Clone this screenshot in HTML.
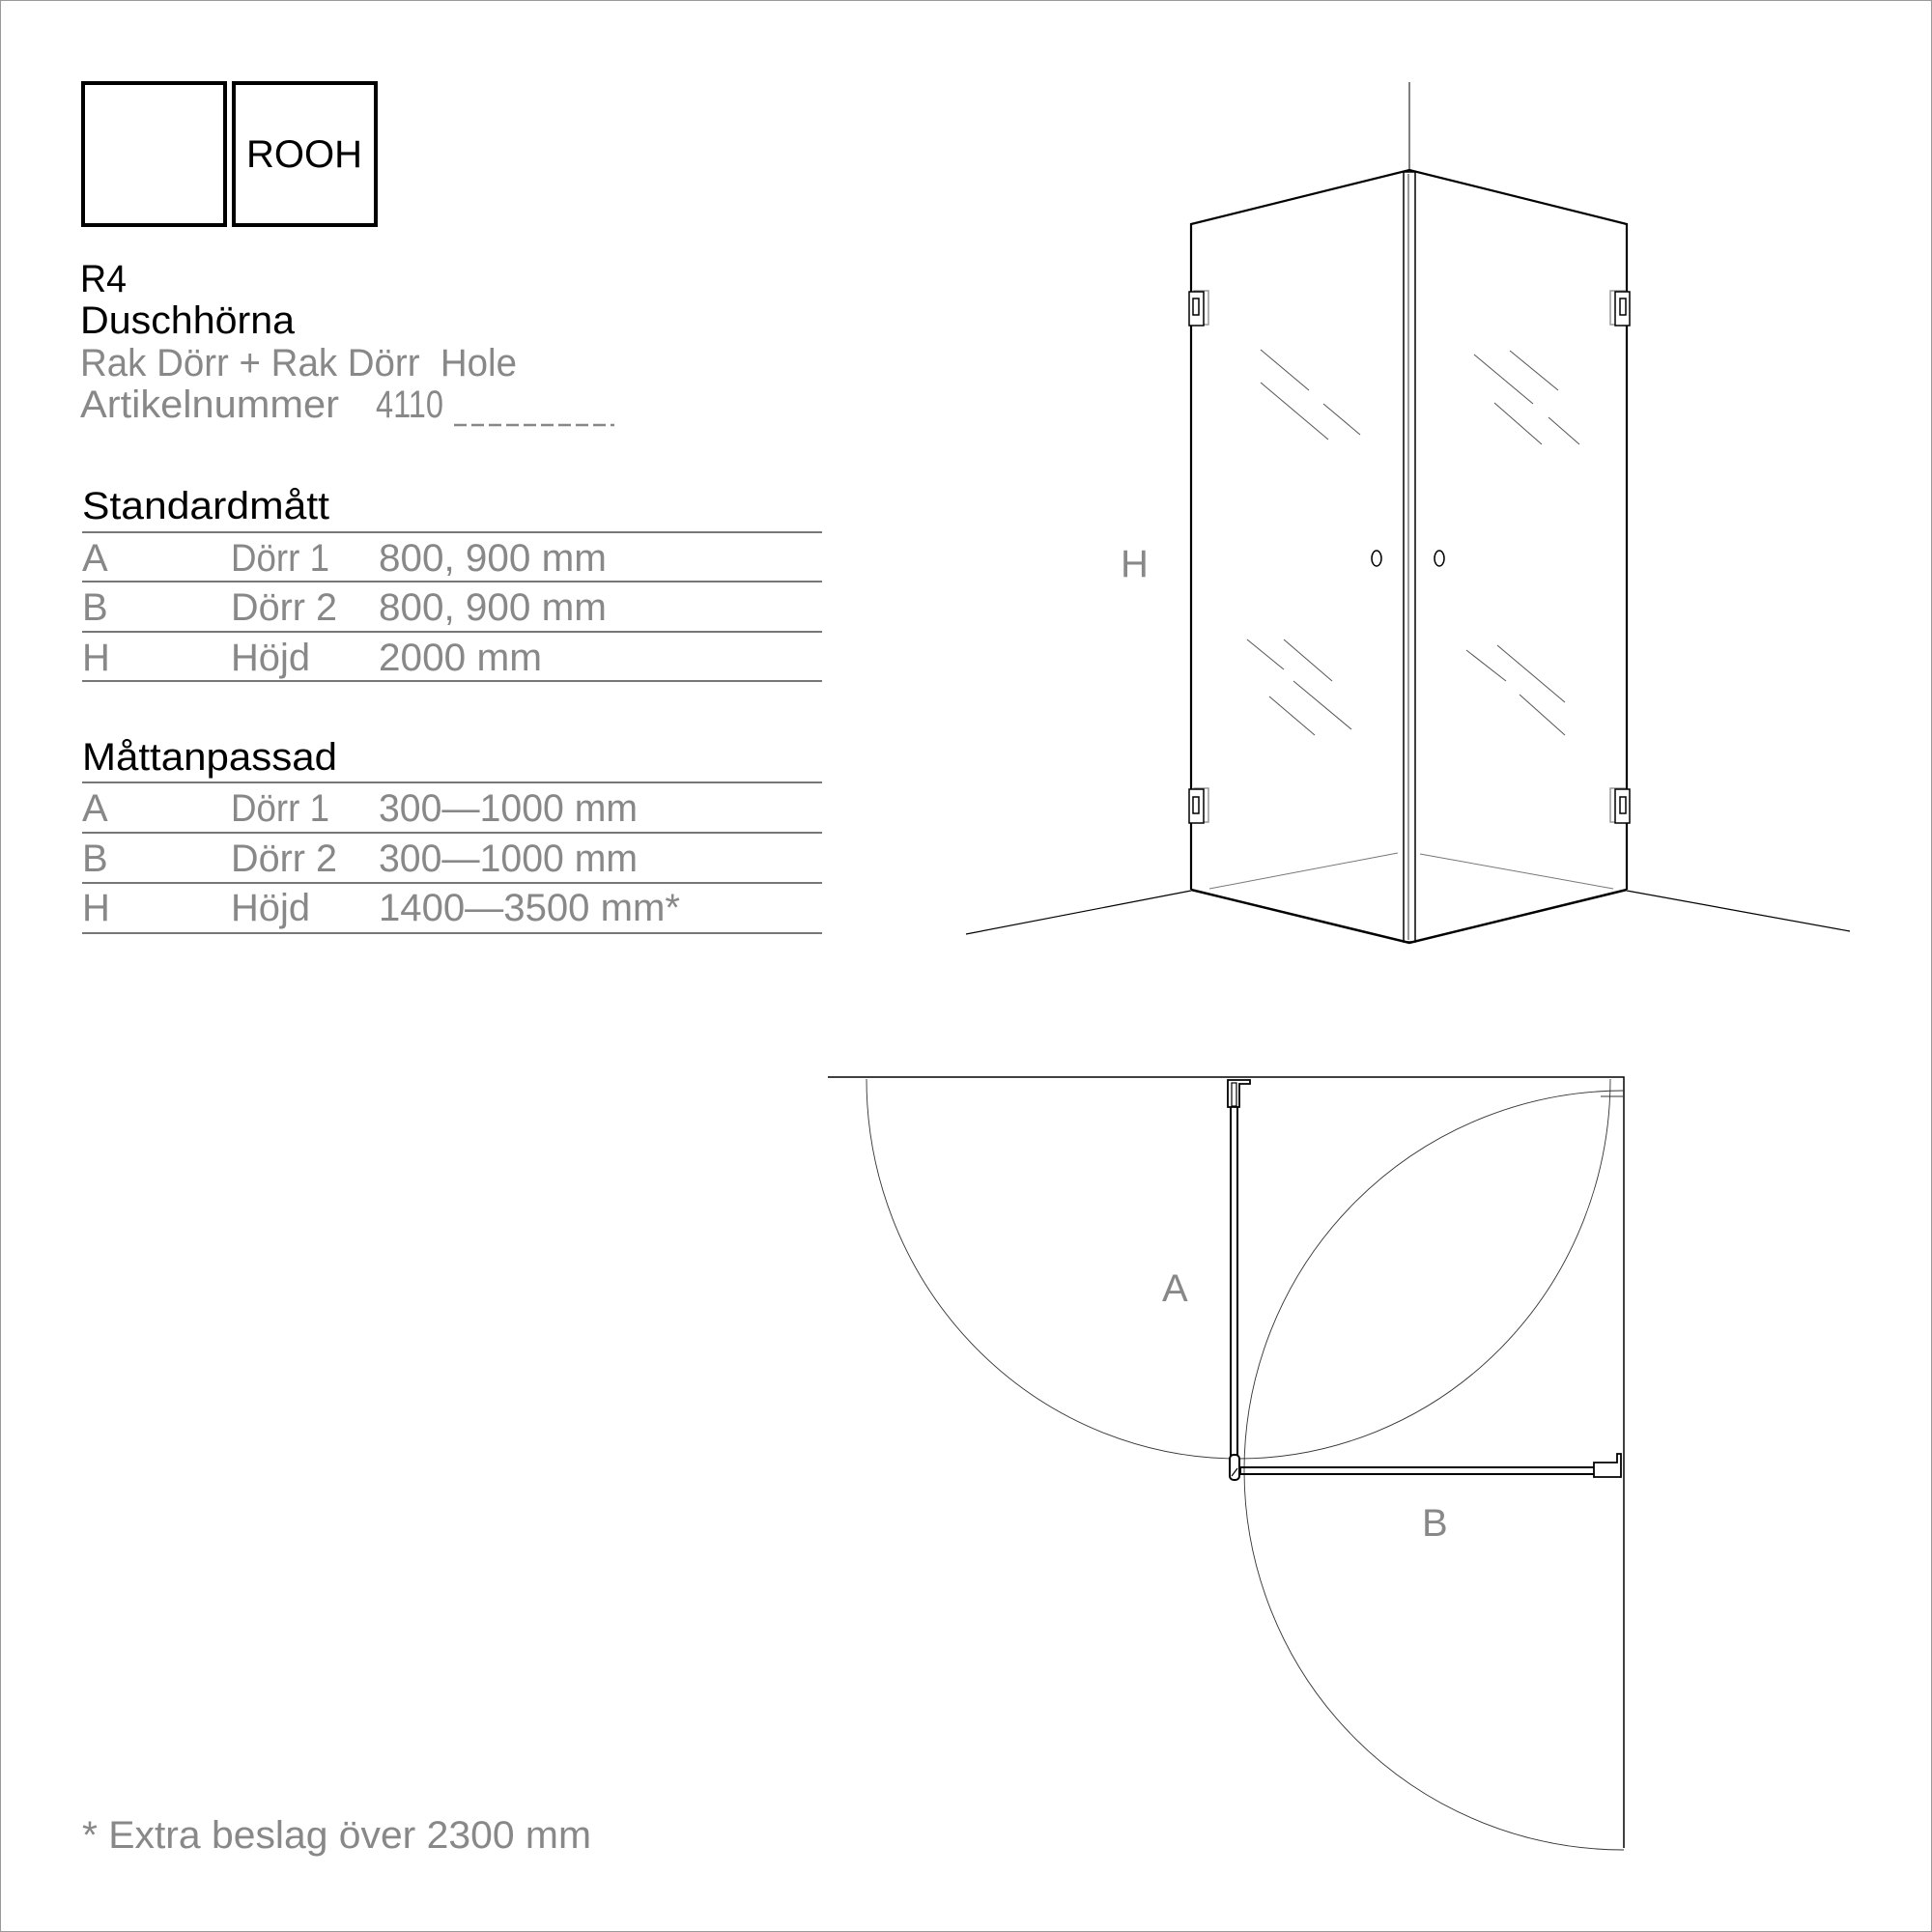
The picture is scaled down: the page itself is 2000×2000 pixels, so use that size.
<!DOCTYPE html>
<html><head><meta charset="utf-8"><style>
html,body{margin:0;padding:0;background:#fff}
svg{display:block}
text{font-family:"Liberation Sans",sans-serif}
</style></head><body>
<svg width="2000" height="2000" viewBox="0 0 2000 2000" xmlns="http://www.w3.org/2000/svg">
<rect x="0.5" y="0.5" width="1999" height="1999" fill="#fff" stroke="#999" stroke-width="1"/>
<rect x="86" y="86" width="147" height="147" fill="none" stroke="#000" stroke-width="4"/>
<rect x="242" y="86" width="147" height="147" fill="none" stroke="#000" stroke-width="4"/>
<text x="315" y="173" font-size="40" text-anchor="middle" fill="#000">ROOH</text>
<g font-size="40" lengthAdjust="spacingAndGlyphs">
<text x="83" y="302" fill="#000" textLength="48" lengthAdjust="spacingAndGlyphs">R4</text>
<text x="83" y="345" fill="#000" textLength="222" lengthAdjust="spacingAndGlyphs">Duschhörna</text>
<text x="83" y="389" fill="#888" textLength="452" lengthAdjust="spacingAndGlyphs" xml:space="preserve">Rak Dörr + Rak Dörr  Hole</text>
<text x="83" y="432" fill="#888" textLength="268" lengthAdjust="spacingAndGlyphs">Artikelnummer</text>
<text x="389" y="432" fill="#888" textLength="70" lengthAdjust="spacingAndGlyphs">4110</text>
<line x1="470" y1="440" x2="636" y2="440" stroke="#888" stroke-width="2.5" stroke-dasharray="13,5"/>
<text x="85" y="537" fill="#000" textLength="256" lengthAdjust="spacingAndGlyphs">Standardmått</text>
<text x="85" y="797" fill="#000" textLength="264" lengthAdjust="spacingAndGlyphs">Måttanpassad</text>
</g>
<g stroke="#777" stroke-width="2">
<line x1="85" y1="551" x2="851" y2="551"/><line x1="85" y1="602" x2="851" y2="602"/>
<line x1="85" y1="654" x2="851" y2="654"/><line x1="85" y1="705" x2="851" y2="705"/>
<line x1="85" y1="810" x2="851" y2="810"/><line x1="85" y1="862" x2="851" y2="862"/>
<line x1="85" y1="914" x2="851" y2="914"/><line x1="85" y1="966" x2="851" y2="966"/>
</g>
<g font-size="40" fill="#888">
<text x="85" y="591">A</text><text x="239" y="591" textLength="102" lengthAdjust="spacingAndGlyphs">Dörr 1</text><text x="392" y="591" textLength="236" lengthAdjust="spacingAndGlyphs">800, 900 mm</text>
<text x="85" y="642">B</text><text x="239" y="642" textLength="110" lengthAdjust="spacingAndGlyphs">Dörr 2</text><text x="392" y="642" textLength="236" lengthAdjust="spacingAndGlyphs">800, 900 mm</text>
<text x="85" y="694">H</text><text x="239" y="694" textLength="82" lengthAdjust="spacingAndGlyphs">Höjd</text><text x="392" y="694" textLength="169" lengthAdjust="spacingAndGlyphs">2000 mm</text>
<text x="85" y="850">A</text><text x="239" y="850" textLength="102" lengthAdjust="spacingAndGlyphs">Dörr 1</text><text x="392" y="850" textLength="268" lengthAdjust="spacingAndGlyphs">300—1000 mm</text>
<text x="85" y="902">B</text><text x="239" y="902" textLength="110" lengthAdjust="spacingAndGlyphs">Dörr 2</text><text x="392" y="902" textLength="268" lengthAdjust="spacingAndGlyphs">300—1000 mm</text>
<text x="85" y="953">H</text><text x="239" y="953" textLength="82" lengthAdjust="spacingAndGlyphs">Höjd</text><text x="392" y="953" textLength="312" lengthAdjust="spacingAndGlyphs">1400—3500 mm*</text>
<text x="85" y="1913" textLength="527" lengthAdjust="spacingAndGlyphs">* Extra beslag över 2300 mm</text>
<text x="1160" y="597">H</text>
<text x="1203" y="1347">A</text>
<text x="1472" y="1590">B</text>
</g>

<g fill="none" stroke="#000">
<line x1="1459" y1="85" x2="1459" y2="176" stroke="#555" stroke-width="1.5"/>
<polyline points="1233,921 1233,232 1459,176 1684,232 1684,921" stroke-width="2.2"/>
<polyline points="1233,921 1459,976 1684,921" stroke-width="2.5"/>
<line x1="1233" y1="922" x2="1000" y2="967" stroke-width="1.2"/>
<line x1="1684" y1="922" x2="1915" y2="964" stroke-width="1.2"/>
<line x1="1252" y1="920" x2="1447" y2="883" stroke="#777" stroke-width="1"/>
<line x1="1470" y1="884" x2="1670" y2="920" stroke="#777" stroke-width="1"/>
<rect x="1453" y="178" width="12" height="797" stroke-width="1.5"/>
<line x1="1458" y1="180" x2="1458" y2="973" stroke="#777" stroke-width="1.5"/>
<ellipse cx="1425" cy="578" rx="5" ry="8" stroke-width="1.5"/>
<ellipse cx="1490" cy="578" rx="5" ry="8" stroke-width="1.5"/>
<g stroke-width="1.5">
<rect x="1236" y="301" width="15" height="35" stroke="#999"/>
<rect x="1231" y="302" width="15" height="35" fill="#fff"/>
<rect x="1235" y="309" width="6" height="17"/>
<rect x="1236" y="816" width="15" height="35" stroke="#999"/>
<rect x="1231" y="817" width="15" height="35" fill="#fff"/>
<rect x="1235" y="825" width="6" height="17"/>
<rect x="1667" y="301" width="15" height="35" stroke="#999"/>
<rect x="1672" y="302" width="15" height="35" fill="#fff"/>
<rect x="1677" y="309" width="6" height="17"/>
<rect x="1667" y="816" width="15" height="35" stroke="#999"/>
<rect x="1672" y="817" width="15" height="35" fill="#fff"/>
<rect x="1677" y="825" width="6" height="17"/>
</g>
<g stroke="#555" stroke-width="1">
<line x1="1305" y1="362" x2="1355" y2="404"/><line x1="1305" y1="396" x2="1375" y2="455"/><line x1="1370" y1="418" x2="1408" y2="450"/>
<line x1="1526" y1="367" x2="1587" y2="418"/><line x1="1563" y1="363" x2="1613" y2="404"/><line x1="1547" y1="417" x2="1596" y2="460"/><line x1="1603" y1="432" x2="1635" y2="460"/>
<line x1="1291" y1="662" x2="1329" y2="693"/><line x1="1329" y1="662" x2="1379" y2="705"/><line x1="1314" y1="721" x2="1361" y2="761"/><line x1="1339" y1="705" x2="1399" y2="755"/>
<line x1="1518" y1="673" x2="1559" y2="705"/><line x1="1550" y1="668" x2="1620" y2="727"/><line x1="1573" y1="719" x2="1620" y2="761"/>
</g>
</g>

<g fill="none" stroke="#000">
<polyline points="857,1115 1681,1115 1681,1913" stroke-width="1.5"/>
<path d="M897,1117 A385,393 0 0 0 1667,1117" stroke="#333" stroke-width="0.9"/>
<path d="M1681,1129 A393,393 0 0 0 1681,1915" stroke="#333" stroke-width="0.9"/>
<line x1="1657" y1="1135" x2="1680" y2="1135" stroke="#333" stroke-width="0.9"/>
<rect x="1274" y="1120" width="7" height="402" stroke-width="2"/>
<path d="M1271,1118 L1294,1118 L1294,1122 L1283,1122 L1283,1146 L1271,1146 Z" stroke-width="1.8" fill="#fff"/>
<rect x="1275" y="1121" width="5" height="24" stroke-width="1.2"/>
<rect x="1284" y="1519" width="392" height="7" stroke-width="2"/>
<path d="M1650,1514 L1674,1514 L1674,1505 L1678,1505 L1678,1529 L1650,1529 Z" stroke-width="1.8" fill="#fff"/>
<rect x="1273" y="1506" width="10" height="26" rx="4" stroke-width="2" fill="#fff"/>
<line x1="1275" y1="1528" x2="1281" y2="1520" stroke-width="1.2"/>
</g>
</svg>
</body></html>
